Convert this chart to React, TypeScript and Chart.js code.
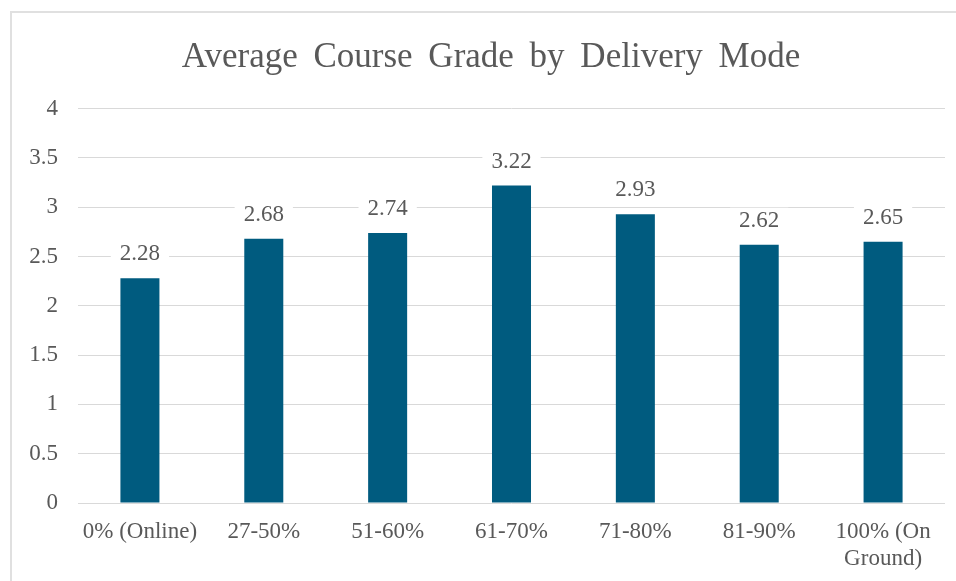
import React, { useEffect, useRef } from "react";
import { Chart, registerables } from "chart.js";

Chart.register(...registerables);

const categories: (string | string[])[] = [
  "0% (Online)",
  "27-50%",
  "51-60%",
  "61-70%",
  "71-80%",
  "81-90%",
  ["100% (On", "Ground)"],
];
const grades = [2.28, 2.68, 2.74, 3.22, 2.93, 2.62, 2.65];
const yTicks = [0, 0.5, 1, 1.5, 2, 2.5, 3, 3.5, 4];
const yTickLabels = ["0", "0.5", "1", "1.5", "2", "2.5", "3", "3.5", "4"];
const titleText = "Average Course Grade by Delivery Mode";

const FONT = "'Liberation Serif', 'Times New Roman', serif";
const TEXT = "#595959";
const BAR = "#005b7f";
const GRID = "#d9d9d9";

const labelPlugin = {
  id: "valueLabels",
  afterDatasetsDraw(chart: any) {
    const ctx = chart.ctx;
    const meta = chart.getDatasetMeta(0);
    ctx.save();
    ctx.font = `23px ${FONT}`;
    ctx.textAlign = "center";
    ctx.textBaseline = "middle";
    meta.data.forEach((el: any, i: number) => {
      const txt = grades[i].toFixed(2);
      const w = ctx.measureText(txt).width;
      const cy = el.y - 24;
      ctx.fillStyle = "#ffffff";
      ctx.fillRect(el.x - w / 2 - 9, cy - 13, w + 18, 26);
      ctx.fillStyle = TEXT;
      ctx.fillText(txt, el.x, cy);
    });
    ctx.restore();
  },
};

const titlePlugin = {
  id: "frameTitle",
  afterDraw(chart: any) {
    const ctx = chart.ctx;
    ctx.save();
    ctx.font = `35px ${FONT}`;
    try {
      (ctx as any).wordSpacing = "7px";
    } catch (e) {}
    ctx.textAlign = "center";
    ctx.textBaseline = "alphabetic";
    ctx.fillStyle = TEXT;
    ctx.fillText(titleText, 491, 67);
    ctx.restore();
  },
};

export default function App() {
  const ref = useRef<HTMLCanvasElement>(null);
  useEffect(() => {
    if (!ref.current) return;
    const chart = new Chart(ref.current, {
      type: "bar",
      data: {
        labels: categories,
        datasets: [
          {
            data: grades,
            backgroundColor: BAR,
            categoryPercentage: 1,
            barPercentage: 0.315,
          },
        ],
      },
      options: {
        animation: false,
        responsive: false,
        layout: { padding: { top: 108.7, right: 11, left: 0, bottom: 0 } },
        plugins: {
          legend: { display: false },
          tooltip: { enabled: false },
          title: { display: false },
        },
        scales: {
          y: {
            min: 0,
            max: 4,
            afterBuildTicks: (s: any) => {
              s.ticks = yTicks.map((v) => ({ value: v }));
            },
            afterFit: (s: any) => {
              s.width = 78;
            },
            border: { display: false },
            grid: { color: GRID, drawTicks: false, lineWidth: 1 },
            ticks: {
              color: TEXT,
              font: { family: FONT, size: 23 },
              padding: 20,
              callback: (_v: any, i: number) => yTickLabels[i],
            },
          },
          x: {
            afterFit: (s: any) => {
              s.height = 78;
            },
            border: { display: false },
            grid: { display: false, drawTicks: false },
            ticks: {
              color: TEXT,
              font: { family: FONT, size: 23, lineHeight: 1.15 },
              padding: 16,
              maxRotation: 0,
              autoSkip: false,
            },
          },
        },
      },
      plugins: [labelPlugin, titlePlugin],
    });
    return () => chart.destroy();
  }, []);
  return (
    <div style={{ position: "fixed", left: 0, top: 0, width: 956, height: 581, background: "#fff", overflow: "hidden" }}>
      <div
        style={{
          position: "absolute",
          left: 10,
          top: 11,
          width: 1000,
          height: 700,
          border: "2px solid #e0e0e0",
          boxSizing: "border-box",
        }}
      />
      <canvas ref={ref} width={956} height={581} style={{ position: "absolute", left: 0, top: 0, display: "block" }} />
    </div>
  );
}
